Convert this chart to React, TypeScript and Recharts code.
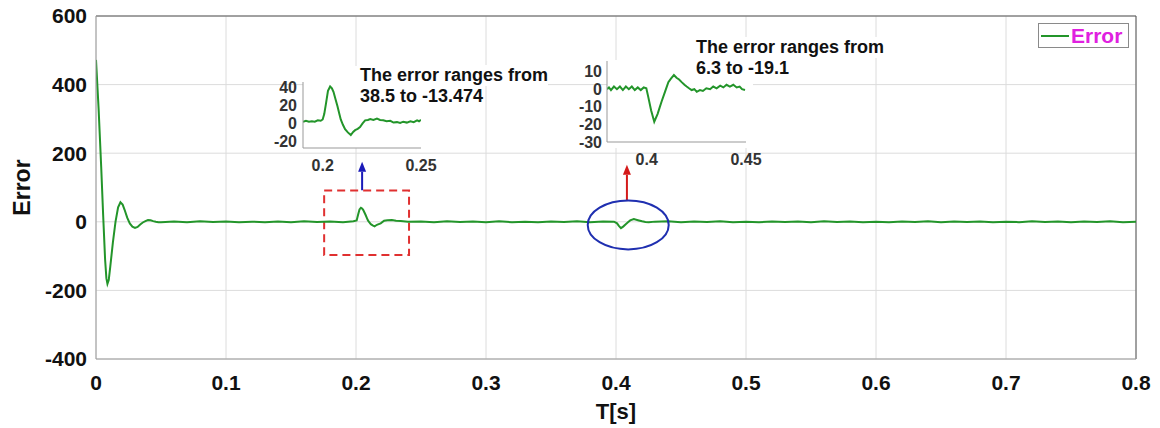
import React from 'react';
import {
  LineChart,
  Line,
  XAxis,
  YAxis,
  CartesianGrid,
  ReferenceArea,
  ReferenceLine,
  ReferenceDot,
  Legend,
} from 'recharts';

const FONT = '"Liberation Sans", Arial, Helvetica, sans-serif';

// ---------- main series: time [s] and error ----------
const mainTime = [
  0, 0.002, 0.004, 0.0055, 0.007, 0.008, 0.0088, 0.0098, 0.011, 0.013, 0.015, 0.017, 0.0188, 0.0205, 0.022, 0.024, 0.026, 0.028, 0.03, 0.032, 0.034, 0.036, 0.038, 0.04, 0.042, 0.044, 0.046, 0.048, 0.05,
  0.06, 0.07, 0.08, 0.09, 0.1, 0.11, 0.12, 0.13, 0.14, 0.15, 0.16, 0.17, 0.18, 0.19, 0.198,
  0.2005, 0.2017, 0.2027, 0.2038, 0.2047, 0.2055, 0.2065, 0.2075, 0.2084, 0.2092, 0.2103, 0.2114, 0.2128, 0.2143, 0.2155, 0.2165, 0.219, 0.2216, 0.2242, 0.2276, 0.2308, 0.2344, 0.24,
  0.25, 0.26, 0.27, 0.28, 0.29, 0.3, 0.31, 0.32, 0.33, 0.34, 0.35, 0.36, 0.37, 0.38, 0.39, 0.3985,
  0.4008, 0.4022, 0.4038, 0.4055, 0.4075, 0.4092, 0.4109, 0.4137, 0.415, 0.4176, 0.4201, 0.4226, 0.4252, 0.43,
  0.44, 0.45, 0.46, 0.47, 0.48, 0.49, 0.5, 0.51, 0.52, 0.53, 0.54, 0.55, 0.56, 0.57, 0.58, 0.59, 0.6, 0.61, 0.62, 0.63, 0.64, 0.65, 0.66, 0.67, 0.68, 0.69, 0.7, 0.71, 0.72, 0.73, 0.74, 0.75, 0.76, 0.77, 0.78, 0.79, 0.8,
];
const mainError = [
  472, 330, 160, 20, -110, -165, -181, -170, -130, -60, 0, 42, 57, 50, 35, 12, -5, -14, -18, -15, -8, -2, 2, 5, 4.5, 2, 0, -1.5, -1,
  1, -1, 1.5, -0.5, 1, -1, 0.5, -1.5, 1, -1, 1.5, -0.5, 1, -1, 1.5,
  4, 22, 36, 41, 39, 35, 27, 19, 11, 4, -2, -7, -10.5, -13.5, -10, -8, -4.5, 3, 4.5, 5, 3, 2, 0.5,
  1, -1, 1.5, -0.5, 1, -1, 1.5, -1, 0.5, -1.5, 1, -0.5, 1.5, -1, 1, 0.5,
  -4.5, -12, -18.5, -14, -7, -1.5, 4, 8, 6.5, 4, 1.5, -0.5, -1.5, 0.5,
  1.5, -1, 1, -0.5, 1.5, -1, 0.5, -1.5, 1, -0.5, 1, -1, 1.5, -0.5, 1, -1, 0.5, -1.5, 1, -0.5, 1.5, -1, 1, -0.5, 1, -1.5, 0.5, -1, 1.5, -0.5, 1, -1, 1, -0.5, 1.5, -1, 0.5,
];
const xTicks = [0, 0.1, 0.2, 0.3, 0.4, 0.5, 0.6, 0.7, 0.8];
const yTicks = [-400, -200, 0, 200, 400, 600];

// ---------- inset 1 (around t = 0.2) ----------
const inset1Time = [
  0.19, 0.1915, 0.193, 0.1945, 0.196, 0.1975, 0.199, 0.2, 0.2008, 0.2017, 0.2027, 0.2038, 0.2047, 0.2055, 0.2065, 0.2075, 0.2084, 0.2092, 0.2103, 0.2114, 0.2128, 0.2143, 0.2155, 0.2165, 0.2178, 0.219, 0.2203, 0.2216, 0.223, 0.2242, 0.2258, 0.2276, 0.2292, 0.2308, 0.2325, 0.2344, 0.236, 0.2378, 0.2394, 0.241, 0.2428, 0.2446, 0.2463, 0.248, 0.249, 0.25,
];
const inset1Error = [
  1.5, 2.5, 1.5, 2, 1.5, 3, 2.5, 4, 10, 22, 36, 41, 39, 35, 27, 19, 11, 4, -2, -7, -10.5, -13.5, -10, -8, -6.5, -4.5, -0.5, 3, 3.5, 4.5, 3.5, 5, 3.5, 3, 2, 2.5, 0.5, 1, 0, 1.5, 0.5, 2, 1, 3, 2, 3.5,
];
const inset1XTicks = [0.2, 0.25];
const inset1YTicks = [-20, 0, 20, 40];

// ---------- inset 2 (around t = 0.4) ----------
const inset2Time = [
  0.38, 0.381, 0.382, 0.3835, 0.385, 0.3865, 0.388, 0.3895, 0.391, 0.3925, 0.394, 0.3955, 0.397, 0.3985, 0.3998, 0.4008, 0.4022, 0.4038, 0.4055, 0.4065, 0.4075, 0.4092, 0.4109, 0.4122, 0.4137, 0.415, 0.4163, 0.4176, 0.419, 0.4201, 0.4213, 0.4226, 0.424, 0.4252, 0.4268, 0.4283, 0.43, 0.4319, 0.4335, 0.4352, 0.437, 0.4386, 0.4402, 0.4419, 0.4436, 0.4453, 0.4468, 0.448, 0.4495,
];
const inset2Error = [
  0, 1, -0.5, 1.5, 0, 1.5, -0.5, 1.5, 0, 1.5, -0.5, 1, -0.5, 1, 0.5, -4.5, -12, -18.5, -14, -10.5, -7, -1.5, 4, 6, 8, 6.5, 5.5, 4, 2.5, 1.5, 0.5, -0.5, 0, -1.5, -0.5, -1, 0.5, 0, 1.5, 0.5, 2, 1, 2.5, 1.5, 2.5, 1, 1.5, 0, -0.5,
];
const inset2XTicks = [0.4, 0.45];
const inset2YTicks = [-30, -20, -10, 0, 10];

const note1Lines = ['The error ranges from', '38.5 to -13.474'];
const note2Lines = ['The error ranges from', '6.3 to -19.1'];
const seriesName = 'Error';
const xTitle = 'T[s]';
const yTitle = 'Error';

const mainData = mainTime.map((t, i) => ({ t, e: mainError[i] }));
const inset1Data = inset1Time.map((t, i) => ({ t, e: inset1Error[i] }));
const inset2Data = inset2Time.map((t, i) => ({ t, e: inset2Error[i] }));

const GREEN = '#23952a';

const makeArrow = (color: string) => (props: any) => {
  const { x1, y1, x2, y2 } = props;
  const ang = Math.atan2(y2 - y1, x2 - x1);
  const L = 10;
  const W = 4;
  const bx = x2 - L * Math.cos(ang);
  const by = y2 - L * Math.sin(ang);
  const px = -Math.sin(ang) * W;
  const py = Math.cos(ang) * W;
  return (
    <g>
      <line x1={x1} y1={y1} x2={bx} y2={by} stroke={color} strokeWidth={2} />
      <polygon points={`${x2},${y2} ${bx + px},${by + py} ${bx - px},${by - py}`} fill={color} />
    </g>
  );
};

const EllipseShape = (props: any) => (
  <ellipse cx={props.cx} cy={props.cy} rx={40.5} ry={24.5} fill="none" stroke="#1f2fb0" strokeWidth={2} />
);

const LegendBox = (props: any) => {
  const item = props.payload && props.payload[0];
  return (
    <div
      style={{
        width: 91,
        height: 25,
        boxSizing: 'border-box',
        border: '1px solid #8a8a8a',
        background: '#fff',
        display: 'flex',
        alignItems: 'center',
        paddingLeft: 2,
      }}
    >
      <div style={{ width: 28, height: 2, background: item ? item.color : GREEN }} />
      <span style={{ marginLeft: 2, fontFamily: FONT, fontWeight: 700, fontSize: 21, color: '#e020e0', lineHeight: '21px' }}>
        {item ? item.value : seriesName}
      </span>
    </div>
  );
};

const tickStyle = { fill: '#111', fontSize: 21, fontWeight: 700, fontFamily: FONT };
const insetTickStyle = { fill: '#333', fontSize: 16, fontWeight: 700, fontFamily: FONT };

function Inset(props: {
  data: { t: number; e: number }[];
  xDomain: [number, number];
  yDomain: [number, number];
  xTicks: number[];
  yTicks: number[];
  left: number;
  top: number;
  width: number;
  height: number;
  yAxisWidth: number;
  yTickMargin: number;
}) {
  return (
    <div style={{ position: 'absolute', left: props.left, top: props.top }}>
      <LineChart width={props.width} height={props.height} data={props.data} margin={{ top: 10, right: 25, bottom: 0, left: 5 }}>
        <XAxis
          dataKey="t"
          type="number"
          domain={props.xDomain}
          ticks={props.xTicks}
          allowDataOverflow
          height={30}
          tickLine={false}
          tickSize={0}
          tickMargin={12}
          axisLine={{ stroke: '#999' }}
          tick={insetTickStyle}
          interval={0}
          tickFormatter={(v: number) => String(v)}
        />
        <YAxis
          type="number"
          domain={props.yDomain}
          ticks={props.yTicks}
          allowDataOverflow
          width={props.yAxisWidth}
          tickLine={false}
          tickSize={0}
          tickMargin={props.yTickMargin}
          axisLine={{ stroke: '#999' }}
          tick={insetTickStyle}
          interval={0}
        />
        <Line dataKey="e" type="linear" stroke={GREEN} strokeWidth={2} dot={false} isAnimationActive={false} />
      </LineChart>
    </div>
  );
}

function Note({ lines, left, top }: { lines: string[]; left: number; top: number }) {
  return (
    <div style={{ position: 'absolute', left, top, fontFamily: FONT, fontWeight: 700, fontSize: 18, lineHeight: '21px', color: '#111' }}>
      {lines.map((l, i) => (
        <div key={i} style={{ background: '#fff', width: 'fit-content', whiteSpace: 'nowrap' }}>
          {l}
        </div>
      ))}
    </div>
  );
}

export default function App() {
  return (
    <div style={{ position: 'absolute', left: 0, top: 0, width: 1160, height: 428, background: '#fff', overflow: 'hidden' }}>
      <LineChart width={1160} height={428} data={mainData} margin={{ top: 16, right: 24, bottom: 0, left: 0 }}>
        <CartesianGrid stroke="#dcdcdc" strokeWidth={1} />
        <XAxis
          dataKey="t"
          type="number"
          domain={[0, 0.8]}
          ticks={xTicks}
          allowDataOverflow
          height={69}
          tickLine={false}
          tickSize={0}
          tickMargin={16}
          axisLine={{ stroke: '#9a9a9a' }}
          tick={tickStyle}
          interval={0}
          tickFormatter={(v: number) => String(v)}
          label={{
            content: (p: any) => {
              const vb = p.viewBox || { x: 96, width: 1040, y: 359 };
              return (
                <text x={vb.x + vb.width / 2} y={419} textAnchor="middle" fontFamily={FONT} fontWeight={700} fontSize={22} fill="#111">
                  {xTitle}
                </text>
              );
            },
          }}
        />
        <YAxis
          type="number"
          domain={[-400, 600]}
          ticks={yTicks}
          allowDataOverflow
          width={96}
          tickLine={false}
          tickSize={0}
          tickMargin={9}
          axisLine={{ stroke: '#9a9a9a' }}
          tick={tickStyle}
          interval={0}
          label={{
            content: (p: any) => {
              const vb = p.viewBox || { x: 0, y: 16, height: 343 };
              const cx = vb.x + 22;
              const cy = vb.y + vb.height / 2;
              return (
                <text
                  x={cx}
                  y={cy}
                  transform={`rotate(-90 ${cx} ${cy})`}
                  textAnchor="middle"
                  dominantBaseline="central"
                  fontFamily={FONT}
                  fontWeight={700}
                  fontSize={23}
                  fill="#111"
                >
                  {yTitle}
                </text>
              );
            },
          }}
        />
        <ReferenceLine y={600} stroke="#555" strokeWidth={1} />
        <ReferenceLine x={0.8} stroke="#555" strokeWidth={1} />
        <ReferenceArea
          x1={0.1755}
          x2={0.2408}
          y1={-97}
          y2={91}
          fill="none"
          fillOpacity={0}
          stroke="#e03030"
          strokeWidth={2}
          strokeDasharray="8 5"
        />
        <ReferenceDot x={0.4094} y={-9} r={40} shape={EllipseShape} />
        <ReferenceLine
          segment={[
            { x: 0.2047, y: 92 },
            { x: 0.2047, y: 175 },
          ]}
          stroke="#1a1ab8"
          shape={makeArrow('#1a1ab8')}
        />
        <ReferenceLine
          segment={[
            { x: 0.4084, y: 62 },
            { x: 0.4084, y: 166 },
          ]}
          stroke="#d41a1a"
          shape={makeArrow('#d41a1a')}
        />
        <Line name={seriesName} dataKey="e" type="linear" stroke={GREEN} strokeWidth={2} dot={false} isAnimationActive={false} />
        <Legend
          layout="horizontal"
          verticalAlign="middle"
          align="center"
          content={LegendBox}
          wrapperStyle={{ position: 'absolute', top: 23, left: 1038, width: 91, height: 25 }}
        />
      </LineChart>

      {/* white backgrounds of the insets */}
      <div style={{ position: 'absolute', left: 303, top: 66, width: 118, height: 82, background: '#fff' }} />
      <div style={{ position: 'absolute', left: 607, top: 60, width: 146, height: 88, background: '#fff' }} />

      <Inset
        data={inset1Data}
        xDomain={[0.19, 0.25]}
        yDomain={[-28, 46]}
        xTicks={inset1XTicks}
        yTicks={inset1YTicks}
        left={258}
        top={72}
        width={188}
        height={106}
        yAxisWidth={40}
        yTickMargin={6}
      />
      <Inset
        data={inset2Data}
        xDomain={[0.38, 0.45]}
        yDomain={[-30, 16]}
        xTicks={inset2XTicks}
        yTicks={inset2YTicks}
        left={560}
        top={51}
        width={211}
        height={121}
        yAxisWidth={42}
        yTickMargin={5}
      />

      <Note lines={note1Lines} left={360} top={65} />
      <Note lines={note2Lines} left={696} top={37} />
    </div>
  );
}
